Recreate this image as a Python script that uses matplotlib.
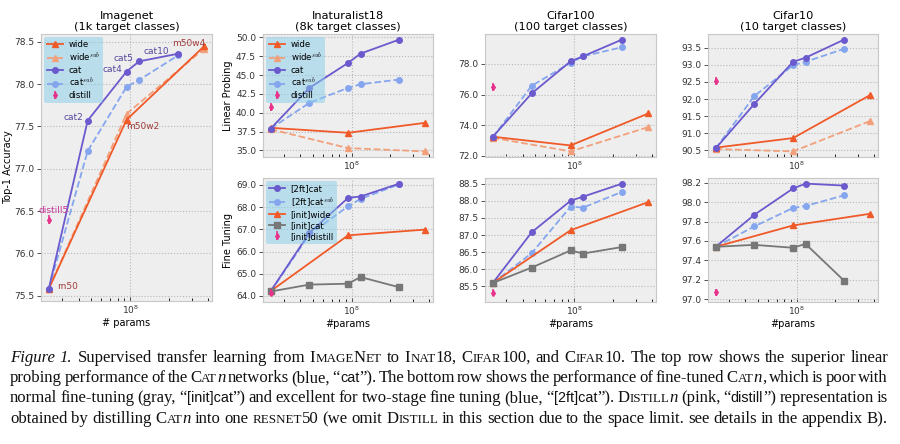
import re
import numpy as np
import matplotlib
matplotlib.use('Agg')
import matplotlib.pyplot as plt
from matplotlib.ticker import NullFormatter, MultipleLocator, FormatStrFormatter
from matplotlib import font_manager

# model sizes (# params)
cat_params = [2.35e7, 4.7e7, 9.4e7, 1.175e8, 2.35e8]     # rn50, cat2, cat4, cat5, cat10
wide_params = [2.35e7, 9.4e7, 3.75e8]                    # rn50, m50w2, m50w4
distill_param = 2.35e7

cat_names = ['rn50', 'cat2', 'cat4', 'cat5', 'cat10']
wide_names = ['rn50', 'm50w2', 'm50w4']

# Imagenet
imagenet_cat = [75.58, 77.57, 78.15, 78.27, 78.36]
imagenet_cat_sub = [75.58, 77.21, 77.97, 78.05, 78.34]
imagenet_wide = [75.58, 77.58, 78.45]
imagenet_wide_sub = [75.58, 77.65, 78.42]
imagenet_distill = 76.40
imagenet_distill_err = 0.05

# Inaturalist18
inat_lp_cat = [37.9, 43.3, 46.6, 47.84, 49.7]
inat_lp_cat_sub = [37.9, 41.31, 43.3, 43.78, 44.4]
inat_lp_wide = [38.0, 37.34, 38.66]
inat_lp_wide_sub = [37.8, 35.31, 34.87]
inat_lp_distill = 40.78
inat_lp_distill_err = 0.5

inat_ft_2ft_cat = [64.22, 66.84, 68.42, 68.48, 69.06]
inat_ft_2ft_cat_sub = [64.2, 66.77, 68.04, 68.37, 69.03]
inat_ft_init_wide = [64.22, 66.73, 66.99]
inat_ft_init_cat = [64.2, 64.51, 64.55, 64.85, 64.39]
inat_ft_distill = 64.15
inat_ft_distill_err = 0.17

# Cifar100
c100_lp_cat = [73.24, 76.07, 78.17, 78.5, 79.59]
c100_lp_cat_sub = [73.2, 76.57, 78.07, 78.5, 79.09]
c100_lp_wide = [73.24, 72.67, 74.76]
c100_lp_wide_sub = [73.17, 72.28, 73.87]
c100_lp_distill = 76.48
c100_lp_distill_err = 0.26

c100_ft_2ft_cat = [85.6, 87.08, 88.0, 88.12, 88.5]
c100_ft_2ft_cat_sub = [85.6, 86.47, 87.83, 87.80, 88.26]
c100_ft_init_wide = [85.6, 87.14, 87.96]
c100_ft_init_cat = [85.6, 86.05, 86.55, 86.46, 86.65]
c100_ft_distill = 85.32
c100_ft_distill_err = 0.11

# Cifar10
c10_lp_cat = [90.56, 91.86, 93.09, 93.21, 93.74]
c10_lp_cat_sub = [90.56, 92.09, 92.99, 93.09, 93.47]
c10_lp_wide = [90.58, 90.86, 92.12]
c10_lp_wide_sub = [90.54, 90.47, 91.36]
c10_lp_distill = 92.54
c10_lp_distill_err = 0.12

c10_ft_2ft_cat = [97.54, 97.87, 98.14, 98.19, 98.17]
c10_ft_2ft_cat_sub = [97.54, 97.75, 97.94, 97.96, 98.07]
c10_ft_init_wide = [97.54, 97.76, 97.88]
c10_ft_init_cat = [97.54, 97.56, 97.53, 97.57, 97.19]
c10_ft_distill = 97.07
c10_ft_distill_err = 0.04

# colours
C_WIDE = '#f05a28'
C_WIDE_SUB = '#f2a07c'
C_CAT = '#6a5acd'
C_CAT_SUB = '#85a6ee'
C_DIST = '#e8338a'
C_INIT = '#777777'

plt.style.use('bmh')
plt.rcParams['font.family'] = ['DejaVu Sans']
plt.rcParams['grid.linestyle'] = ':'
plt.rcParams['grid.color'] = '#b8b8b8'
plt.rcParams['grid.linewidth'] = 0.8
plt.rcParams['xtick.direction'] = 'in'
plt.rcParams['ytick.direction'] = 'out'
plt.rcParams['xtick.labelsize'] = 6.5
plt.rcParams['ytick.labelsize'] = 6.5

LW = 1.3
MS = 4

fig = plt.figure(figsize=(9, 4.44), dpi=100)
W, H = 900, 444


def add_ax(x0, y0, x1, y1):
    return fig.add_axes([x0 / W, 1 - y1 / H, (x1 - x0) / W, (y1 - y0) / H])


def style_ax(ax, step):
    ax.set_xscale('log')
    ax.xaxis.set_minor_formatter(NullFormatter())
    ax.yaxis.set_major_locator(MultipleLocator(step))
    ax.yaxis.set_major_formatter(FormatStrFormatter('%.1f'))
    ax.tick_params(axis='both', which='major', length=3, width=0.6, colors='#333333', pad=2)
    ax.tick_params(axis='x', which='minor', length=2, width=0.6)
    for s in ax.spines.values():
        s.set_color('#c8c8c8')


def linear_probe(ax, cat, cat_sub, wide, wide_sub, dist, dist_err):
    ax.plot(wide_params, wide, '-^', color=C_WIDE, lw=LW, ms=MS, label='wide', zorder=3)
    ax.plot(wide_params, wide_sub, '--^', color=C_WIDE_SUB, lw=LW, ms=MS, label='wide$^{sub}$', zorder=2)
    ax.plot(cat_params, cat, '-o', color=C_CAT, lw=LW, ms=MS, label='cat', zorder=3)
    ax.plot(cat_params, cat_sub, '--o', color=C_CAT_SUB, lw=LW, ms=MS, label='cat$^{sub}$', zorder=2)
    ax.errorbar([distill_param], [dist], yerr=[dist_err], fmt='d', color=C_DIST, ms=3,
                elinewidth=1.2, capsize=0, label='distill', zorder=4)


def fine_tune(ax, cat, cat_sub, wide, init_cat, dist, dist_err):
    ax.plot(cat_params, cat, '-o', color=C_CAT, lw=LW, ms=MS, label='[2ft]cat', zorder=3)
    ax.plot(cat_params, cat_sub, '--o', color=C_CAT_SUB, lw=LW, ms=MS, label='[2ft]cat$^{sub}$', zorder=2)
    ax.plot(wide_params, wide, '-^', color=C_WIDE, lw=LW, ms=MS, label='[init]wide', zorder=3)
    ax.plot(cat_params, init_cat, '-s', color=C_INIT, lw=LW, ms=MS, label='[init]cat', zorder=3)
    ax.errorbar([distill_param], [dist], yerr=[dist_err], fmt='d', color=C_DIST, ms=3,
                elinewidth=1.2, capsize=0, label='[init]distill', zorder=4)


def legend(ax):
    leg = ax.legend(loc='upper left', fontsize=6.2, handlelength=1.8, borderpad=0.35,
                    labelspacing=0.2, handletextpad=0.7, borderaxespad=0.35, frameon=True)
    leg.get_frame().set_facecolor('#87ceeb')
    leg.get_frame().set_alpha(0.5)
    leg.get_frame().set_edgecolor('none')


TITLE_FS = 8.2
LABEL_FS = 7.0

# Imagenet (full height)
ax = add_ax(41, 34, 212, 301)
linear_probe(ax, imagenet_cat, imagenet_cat_sub, imagenet_wide, imagenet_wide_sub,
             imagenet_distill, imagenet_distill_err)
style_ax(ax, 0.5)
legend(ax)
ax.set_title('Imagenet\n(1k target classes)', fontsize=TITLE_FS, linespacing=1.1, pad=3)
ax.set_ylabel('Top-1 Accuracy', fontsize=LABEL_FS, labelpad=1)
ax.set_xlabel('# params', fontsize=LABEL_FS, labelpad=1)
cat_off = {'rn50': (6, 2, 'left'), 'cat2': (-3, 2, 'right'),
           'cat4': (-3, 1.5, 'right'), 'cat5': (-4.3, 1.8, 'right'),
           'cat10': (-6.5, 1.8, 'right')}
for name, xv, yv in zip(cat_names, cat_params, imagenet_cat):
    dx, dy, ha = cat_off[name]
    col = '#a33b3b' if name == 'rn50' else '#55489e'
    ax.annotate(name, (xv, yv), xytext=(dx, dy), textcoords='offset points',
                ha=ha, va='center', fontsize=6.5, color=col)
ax.annotate(wide_names[1], (wide_params[1], imagenet_wide[1]), xytext=(0, -1.5),
            textcoords='offset points', ha='left', va='top', fontsize=6.5, color='#a33b3b')
ax.annotate(wide_names[2], (wide_params[2], imagenet_wide[2]), xytext=(1, 0),
            textcoords='offset points', ha='right', va='baseline', fontsize=6.5, color='#a33b3b')
ax.annotate('distill5', (distill_param, imagenet_distill), xytext=(3.5, 4.5),
            textcoords='offset points', ha='center', va='baseline', fontsize=6.5, color='#c8359a')

# Inaturalist18
ax = add_ax(263, 34, 433, 157)
linear_probe(ax, inat_lp_cat, inat_lp_cat_sub, inat_lp_wide, inat_lp_wide_sub,
             inat_lp_distill, inat_lp_distill_err)
style_ax(ax, 2.5)
legend(ax)
ax.set_title('Inaturalist18\n(8k target classes)', fontsize=TITLE_FS, linespacing=1.1, pad=3)
ax.set_ylabel('Linear Probing', fontsize=LABEL_FS, labelpad=2)

ax = add_ax(263, 178, 433, 302)
fine_tune(ax, inat_ft_2ft_cat, inat_ft_2ft_cat_sub, inat_ft_init_wide, inat_ft_init_cat,
          inat_ft_distill, inat_ft_distill_err)
style_ax(ax, 1.0)
legend(ax)
ax.set_ylabel('Fine Tuning', fontsize=LABEL_FS, labelpad=2)
ax.set_xlabel('#params', fontsize=LABEL_FS, labelpad=1)

# Cifar100
ax = add_ax(485, 34, 656, 157)
linear_probe(ax, c100_lp_cat, c100_lp_cat_sub, c100_lp_wide, c100_lp_wide_sub,
             c100_lp_distill, c100_lp_distill_err)
style_ax(ax, 2.0)
ax.set_title('Cifar100\n(100 target classes)', fontsize=TITLE_FS, linespacing=1.1, pad=3)

ax = add_ax(485, 178, 656, 302)
fine_tune(ax, c100_ft_2ft_cat, c100_ft_2ft_cat_sub, c100_ft_init_wide, c100_ft_init_cat,
          c100_ft_distill, c100_ft_distill_err)
style_ax(ax, 0.5)
ax.set_xlabel('#params', fontsize=LABEL_FS, labelpad=1)

# Cifar10
ax = add_ax(708, 34, 878, 157)
linear_probe(ax, c10_lp_cat, c10_lp_cat_sub, c10_lp_wide, c10_lp_wide_sub,
             c10_lp_distill, c10_lp_distill_err)
style_ax(ax, 0.5)
ax.set_title('Cifar10\n(10 target classes)', fontsize=TITLE_FS, linespacing=1.1, pad=3)

ax = add_ax(708, 178, 878, 302)
fine_tune(ax, c10_ft_2ft_cat, c10_ft_2ft_cat_sub, c10_ft_init_wide, c10_ft_init_cat,
          c10_ft_distill, c10_ft_distill_err)
style_ax(ax, 0.2)
ax.set_xlabel('#params', fontsize=LABEL_FS, labelpad=1)

# Caption ({s:..} small caps, {i:..} italic, {f:..} sans)
caption_lines = [
    "{i:Figure 1.} Supervised transfer learning from I{s:MAGE}N{s:ET} to I{s:NAT}18, C{s:IFAR}100, and C{s:IFAR}10. The top row shows the superior linear",
    "probing performance of the C{s:AT}{i:n} networks (blue, \u201c{f:cat}\u201d). The bottom row shows the performance of fine-tuned C{s:AT}{i:n}, which is poor with",
    "normal fine-tuning (gray, \u201c{f:[init]cat}\u201d) and excellent for two-stage fine tuning (blue, \u201c{f:[2ft]cat}\u201d). D{s:ISTILL}{i:n} (pink, \u201c{f:distill}\u201d) representation is",
    "obtained by distilling C{s:AT}{i:n} into one {s:RESNET}50 (we omit D{s:ISTILL} in this section due to the space limit. see details in the appendix B).",
]
cap_baselines = [362, 382, 402, 423]
cap_left, cap_right = 10, 888

# a narrow sans for the quoted code words, if there is one
sans_names = {f.name for f in font_manager.fontManager.ttflist}
SANS = 'Liberation Sans Narrow' if 'Liberation Sans Narrow' in sans_names else 'Liberation Sans'
SANS_SCALE = 1.0 if SANS == 'Liberation Sans Narrow' else 0.86


def parse(line):
    words = [[]]
    for part in re.split(r'(\{[a-z]:[^}]*\})', line):
        if not part:
            continue
        if part.startswith('{'):
            kind, txt = part[1], part[3:-1]
        else:
            kind, txt = 'n', part
        chunks = txt.split(' ')
        for k, c in enumerate(chunks):
            if k > 0:
                words.append([])
            if c:
                words[-1].append((c, kind))
    return [w for w in words if w]


def props(kind, fs):
    if kind == 's':
        return dict(family='Liberation Serif', size=fs * 0.78)
    if kind == 'i':
        return dict(family='Liberation Serif', size=fs, style='italic')
    if kind == 'f':
        return dict(family=SANS, size=fs * SANS_SCALE)
    return dict(family='Liberation Serif', size=fs)


renderer = fig.canvas.get_renderer()


def build(words, fs):
    out = []
    for w in words:
        pieces = []
        for txt, kind in w:
            t = fig.text(0, 0, txt, va='baseline', ha='left', color='#111111', **props(kind, fs))
            pieces.append((t, t.get_window_extent(renderer).width))
        out.append(pieces)
    return out


def natural_width(built, space):
    return sum(sum(p[1] for p in w) for w in built) + space * (len(built) - 1)


parsed = [parse(l) for l in caption_lines]
target = cap_right - cap_left

# font size: largest size at which every line fits with spaces squeezed to 60%
fs0 = 10.0
fs = 100.0
for words in parsed:
    tmp = build(words, fs0)
    w60 = natural_width(tmp, 0.6 * fs0 * 0.25 * 100 / 72)
    fs = min(fs, fs0 * target / w60)
    for w in tmp:
        for t, _ in w:
            t.remove()

for li, words in enumerate(parsed):
    built = build(words, fs)
    space = fs * 0.25 * 100 / 72
    nat = natural_width(built, space)
    gap = space + (target - nat) / (len(built) - 1)
    x = cap_left
    yb = 1 - cap_baselines[li] / H
    for w in built:
        for t, wd in w:
            t.set_position((x / W, yb))
            x += wd
        x += gap

fig.savefig('out.png', dpi=100)
